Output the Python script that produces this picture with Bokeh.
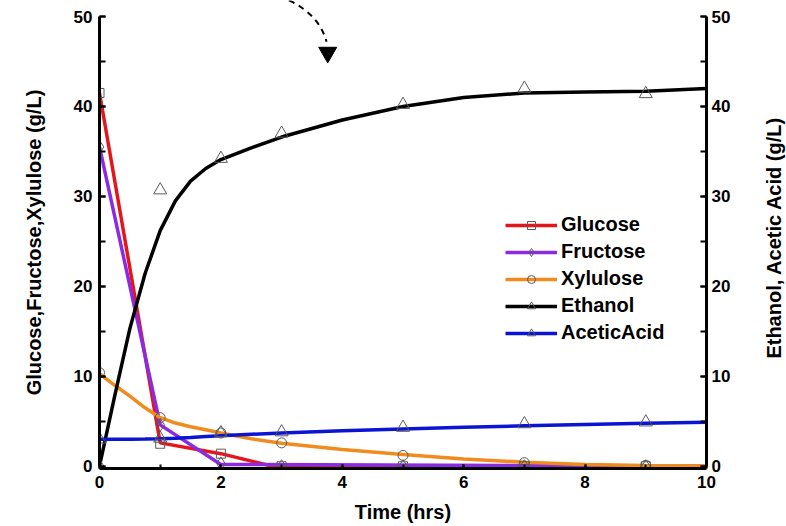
import numpy as np
from bokeh.plotting import figure
from bokeh.layouts import row
from bokeh.models import Range1d, LinearAxis, Legend, LegendItem, SingleIntervalTicker
from bokeh.core.properties import value
from bokeh.embed import file_html
from bokeh.resources import INLINE

# ---- data ----
t_pts = [0, 1, 2, 3, 5, 7, 9]
glucose_pts = [41.5, 2.5, 1.4, 0, 0, 0, 0]
fructose_pts = [35.5, 4.6, 0.3, 0, 0, 0, 0]
xylulose_pts = [10.4, 5.4, 3.7, 2.6, 1.2, 0.4, 0.1]
ethanol_pts = [0, 30.7, 34.2, 37.0, 40.2, 42.0, 41.4]
acetic_pts = [3.0, 3.1, 3.7, 3.8, 4.3, 4.7, 4.9]

glucose_line_t = [0, 1, 2, 2.85, 10]
glucose_line = [41.5, 2.6, 1.4, 0, 0]
fructose_line_t = [0, 1, 2, 10]
fructose_line = [35.5, 4.6, 0.2, 0]

fit_t = [0, 0.25, 0.5, 0.75, 1, 1.25, 1.5, 1.75, 2, 2.5, 3, 4, 5, 6, 7, 8, 9, 10]
xylulose_fit = [10.3, 9.0, 7.8, 6.5, 5.4, 4.8, 4.4, 4.05, 3.7, 3.05, 2.55, 1.85, 1.3, 0.8, 0.45, 0.2, 0.08, 0.03]
ethanol_fit = [0, 7.8, 15.3, 21.4, 26.2, 29.5, 31.7, 33.1, 34.1, 35.4, 36.6, 38.5, 40.0, 41.0, 41.5, 41.6, 41.7, 42.0]
acetic_fit = [3.0, 3.0, 3.0, 3.02, 3.05, 3.12, 3.2, 3.3, 3.4, 3.55, 3.7, 3.95, 4.15, 4.33, 4.5, 4.65, 4.78, 4.9]

x_ticks_step = 2
y_ticks_step = 10

x_label = "Time (hrs)"
y_label_left = "Glucose,Fructose,Xylulose (g/L)"
y_label_right = "Ethanol, Acetic Acid (g/L)"

FONT = "Liberation Sans"
H = 526
BOTTOM = 58
FRAME_H = H - BOTTOM
LEFT_W = 50
RIGHT_W = 36
MAIN_W = 786 - LEFT_W - RIGHT_W

p = figure(width=MAIN_W, height=H, output_backend="svg", toolbar_location=None,
           x_range=Range1d(0, 10), y_range=Range1d(-0.25, 51.78),
           min_border_left=99 - LEFT_W, min_border_right=MAIN_W + LEFT_W - 706,
           min_border_top=0, min_border_bottom=BOTTOM)
p.outline_line_color = None
p.xgrid.visible = False
p.ygrid.visible = False
p.background_fill_color = "white"
p.border_fill_color = "white"


def style_axis(ax):
    ax.axis_line_width = 3
    ax.axis_line_color = "black"
    ax.major_tick_in = 6
    ax.major_tick_out = 0
    ax.minor_tick_in = 6
    ax.minor_tick_out = 0
    ax.major_tick_line_width = 2
    ax.minor_tick_line_width = 2
    ax.major_label_text_font = FONT
    ax.major_label_text_font_style = "bold"
    ax.major_label_text_font_size = "17px"
    ax.major_label_text_color = "black"
    ax.axis_label_text_font = FONT
    ax.axis_label_text_font_style = "bold"
    ax.axis_label_text_font_size = "20px"
    ax.axis_label_text_color = "black"


xa = p.xaxis[0]
style_axis(xa)
xa.ticker = SingleIntervalTicker(interval=x_ticks_step, num_minor_ticks=2)
xa.bounds = (0, 10)
xa.axis_label = x_label
xa.major_tick_in = 4
xa.minor_tick_in = 4
xa.major_label_standoff = 7
xa.axis_label_standoff = 10

ya = p.yaxis[0]
style_axis(ya)
ya.ticker = SingleIntervalTicker(interval=y_ticks_step, num_minor_ticks=2)
ya.bounds = (0, 50)
ya.major_label_standoff = 7

yr = LinearAxis()
style_axis(yr)
yr.ticker = SingleIntervalTicker(interval=y_ticks_step, num_minor_ticks=2)
yr.bounds = (0, 50)
yr.major_label_standoff = 5
p.add_layout(yr, "right")

RED = "#e4161c"
PURPLE = "#8a2be2"
ORANGE = "#f08c1e"
BLACK = "#000000"
BLUE = "#0c14d4"
MK = "#5a5a5a"
LW = 3.5

r_gl = p.line(glucose_line_t, glucose_line, line_color=RED, line_width=LW)
r_fr = p.line(fructose_line_t, fructose_line, line_color=PURPLE, line_width=LW)
r_xy = p.line(fit_t, xylulose_fit, line_color=ORANGE, line_width=LW)
r_et = p.line(fit_t, ethanol_fit, line_color=BLACK, line_width=LW)
r_ac = p.line(fit_t, acetic_fit, line_color=BLUE, line_width=LW)

m_gl = p.scatter(t_pts, glucose_pts, marker="square", size=9, fill_color=None, line_color=MK, line_width=1)
m_fr = p.scatter(t_pts, fructose_pts, marker="diamond", size=13, fill_color=None, line_color=MK, line_width=1)
m_xy = p.scatter(t_pts, xylulose_pts, marker="circle", size=10, fill_color=None, line_color=MK, line_width=1)
m_et = p.scatter(t_pts, ethanol_pts, marker="triangle", size=13, fill_color=None, line_color=MK, line_width=1)
m_ac = p.scatter(t_pts, acetic_pts, marker="triangle", size=13, fill_color=None, line_color=MK, line_width=1)

# dashed curved arrow annotation at the top
p.quadratic(x0=[3.12], y0=[51.8], x1=[3.74], y1=[47.2], cx=[3.62], cy=[50.2],
            line_color="black", line_width=2, line_dash="6 5")
p.scatter([3.76], [46.0], marker="inverted_triangle", size=18, fill_color="black", line_color="black")

legend = Legend(items=[
    LegendItem(label="Glucose", renderers=[r_gl, m_gl]),
    LegendItem(label="Fructose", renderers=[r_fr, m_fr]),
    LegendItem(label="Xylulose", renderers=[r_xy, m_xy]),
    LegendItem(label="Ethanol", renderers=[r_et, m_et]),
    LegendItem(label="AceticAcid", renderers=[r_ac, m_ac]),
], location=(406, 124))
legend.border_line_color = None
legend.background_fill_alpha = 0
legend.padding = 0
legend.margin = 0
legend.spacing = 4
legend.glyph_width = 52
legend.glyph_height = 20
legend.label_height = 20
legend.label_standoff = 4
legend.label_text_font = FONT
legend.label_text_font_style = "bold"
legend.label_text_font_size = "20px"
legend.label_text_color = "black"
p.add_layout(legend, "center")


# side strips carrying the two vertical axis titles (read bottom-to-top);
# their frames share the main plot's vertical extent (0..FRAME_H px)
def title_strip(w, text, cx, cy):
    s = figure(width=w, height=H, output_backend="svg", toolbar_location=None,
               x_range=Range1d(0, w), y_range=Range1d(0, FRAME_H),
               x_axis_location=None, y_axis_location=None,
               min_border_left=0, min_border_right=0,
               min_border_top=0, min_border_bottom=BOTTOM)
    s.outline_line_color = None
    s.xgrid.visible = False
    s.ygrid.visible = False
    s.background_fill_color = "white"
    s.border_fill_color = "white"
    s.text(x=[cx], y=[FRAME_H - cy], text=[text], angle=np.pi / 2,
           text_align="center", text_baseline="middle",
           text_font=value(FONT), text_font_style="bold",
           text_font_size="20px", text_color="black")
    return s


left_strip = title_strip(LEFT_W, y_label_left, 33, 242)
right_strip = title_strip(RIGHT_W, y_label_right, 773 - (LEFT_W + MAIN_W), 237)

layout = row(left_strip, p, right_strip, spacing=0)
open("out.html", "w").write(file_html(layout, INLINE))
